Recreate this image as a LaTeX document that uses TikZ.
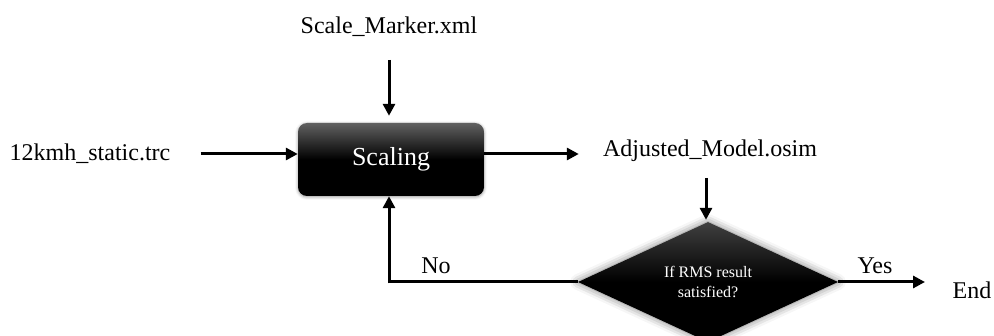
\documentclass[tikz,border=0pt]{standalone}
\usepackage{fontspec}
\setmainfont{Liberation Serif}
\usepackage{tikz}
\usetikzlibrary{arrows.meta, positioning, shapes.geometric, shadows.blur}

\begin{document}
\begin{tikzpicture}[
    x=1pt, y=1pt,
    file/.style={font=\fontsize{24}{28}\selectfont, inner sep=2pt},
    process/.style={rectangle, rounded corners=9pt, minimum width=186pt, minimum height=73pt,
        top color=black!62, bottom color=black, middle color=black, text=white,
        font=\fontsize{26}{30}\selectfont, blur shadow={shadow xshift=0pt, shadow yshift=-1pt, shadow blur radius=3pt, shadow opacity=40}},
    decision/.style={diamond, minimum width=260pt, minimum height=120pt, inner sep=0pt,
        top color=black!75, bottom color=black, middle color=black, text=white, align=center,
        font=\fontsize{16}{20}\selectfont, blur shadow={shadow xshift=0pt, shadow yshift=0pt, shadow blur radius=8pt, shadow opacity=55}},
    arrow/.style={-{Triangle[length=12pt, width=12pt]}, line width=3pt},
    link/.style={line width=3pt}
]
\useasboundingbox (0,0) rectangle (994,335);

\node[process] (scale) at (391,175.5) {Scaling};
\node[file] (marker) at (389,308) {Scale\_Marker.xml};
\node[file] (static) at (90,181) {12kmh\_static.trc};
\node[file] (adjusted) at (710,184) {Adjusted\_Model.osim};
\node[decision] (check) at (708,53) {If RMS result\\satisfied?};
\node[file] (finish) at (972,45) {End};

\coordinate (markerout) at (389,275);
\coordinate (adjustedout) at (706,157);
\coordinate (yesend) at (925,53);
\coordinate (noturn) at (389,53);

\draw[arrow] (markerout) -- (markerout |- scale.north) [shorten >=7pt];
\draw[arrow] (static.east) ++(28pt,0) -- (scale.west |- static.east);
\draw[arrow] (scale.east |- static.east) -- (adjusted.west |- static.east) [shorten >=22pt];
\draw[arrow] (adjustedout) -- (adjustedout |- check.north) [shorten >=2pt];
\draw[arrow] (check.east) -- (yesend);
\draw[link] (check.west) -- (noturn);
\draw[arrow] ([yshift=-1.5pt]noturn) -- (noturn |- scale.south);

\node[file] (no) at (436,69) {No};
\node[file] (yes) at (875,69) {Yes};
\end{tikzpicture}
\end{document}
